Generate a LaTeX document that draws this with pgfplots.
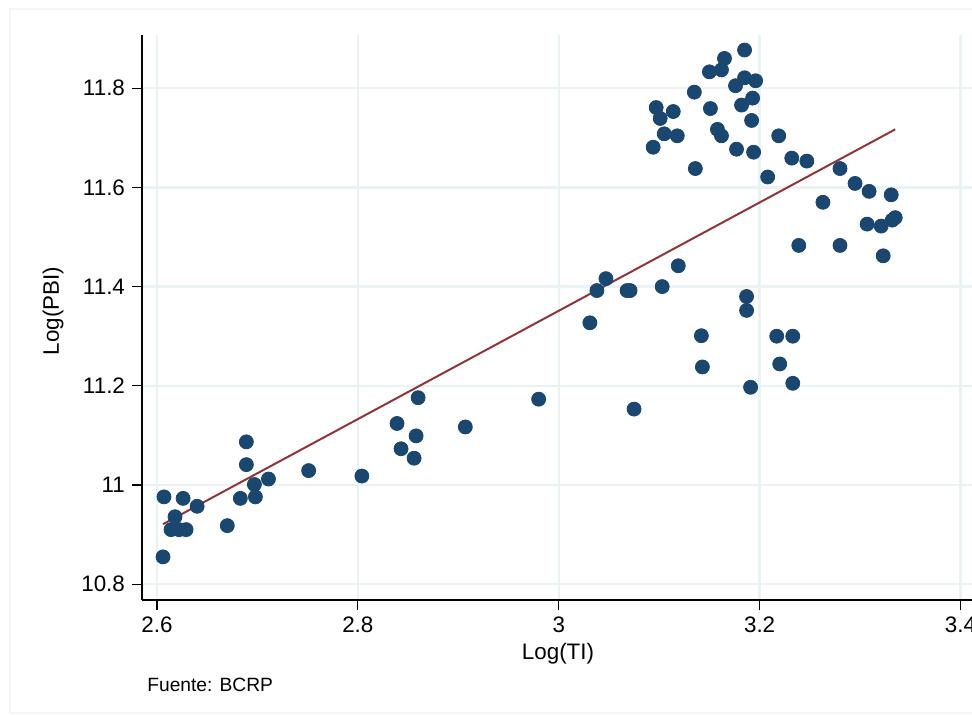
\documentclass[border=0pt]{standalone}
\usepackage{fontspec}
\setmainfont{Liberation Sans}
\usepackage{pgfplots}
\pgfplotsset{compat=1.18}
\definecolor{stnavy}{RGB}{26,71,111}
\definecolor{stmaroon}{RGB}{144,53,59}
\definecolor{stgrid}{RGB}{234,242,243}
\begin{document}
\begin{tikzpicture}
\begin{axis}[
 at={(0,0)}, anchor=south west,
 scale only axis, width=419.3pt, height=282.5pt,
 xmin=2.5851, xmax=3.42, ymin=10.7681, ymax=11.9073,
 axis x line*=bottom, axis y line*=left,
 axis line style={line width=0.9pt, black, -},
 xtick={2.6,2.8,3,3.2,3.4}, ytick={10.8,11,11.2,11.4,11.6,11.8},
 xticklabels={2.6,2.8,3,3.2,3.4}, yticklabels={10.8,11,11.2,11.4,11.6,11.8},
 tick align=outside, major tick length=5pt, tick style={line width=0.6pt, black},
 grid=major, major grid style={stgrid, line width=1.2pt},
 ticklabel style={font=\fontsize{11.2}{13}\selectfont},
 clip=false,
]
\addplot[only marks, mark=*, mark size=3.5pt, stnavy, mark options={fill=stnavy, draw=stnavy}] coordinates {
(2.689,11.087) (2.689,11.041) (2.751,11.029) (2.697,11.001) (2.711,11.012)
(2.607,10.976) (2.626,10.973) (2.640,10.957) (2.683,10.973) (2.698,10.976)
(2.618,10.936) (2.614,10.910) (2.622,10.910) (2.629,10.910) (2.670,10.918)
(2.606,10.855)
(2.860,11.176) (2.980,11.173) (2.839,11.124) (2.907,11.117) (2.858,11.099)
(2.843,11.073) (2.856,11.054) (2.804,11.018)
(3.119,11.442) (3.047,11.416) (3.038,11.392) (3.068,11.392) (3.071,11.392)
(3.103,11.400) (3.031,11.327) (3.142,11.301) (3.143,11.238) (3.075,11.153)
(3.187,11.380) (3.187,11.352) (3.191,11.197) (3.217,11.300) (3.233,11.300)
(3.220,11.244) (3.233,11.205)
(3.185,11.877) (3.165,11.860) (3.150,11.833) (3.162,11.837) (3.185,11.821)
(3.176,11.805) (3.196,11.815) (3.135,11.792) (3.193,11.780) (3.097,11.761)
(3.114,11.753) (3.151,11.759) (3.182,11.766) (3.101,11.739) (3.192,11.735)
(3.158,11.717) (3.162,11.704) (3.105,11.708) (3.118,11.704) (3.219,11.704)
(3.094,11.681) (3.177,11.677) (3.194,11.671) (3.232,11.659) (3.136,11.638)
(3.208,11.621)
(3.247,11.653) (3.280,11.638) (3.295,11.608) (3.309,11.592) (3.331,11.585)
(3.263,11.570) (3.307,11.526) (3.321,11.522) (3.332,11.534) (3.335,11.539)
(3.239,11.483) (3.280,11.483) (3.323,11.462)
};
\addplot[stmaroon, line width=1pt, no marks] coordinates {(2.606,10.921) (3.335,11.717)};
\end{axis}
\draw[gray!8, line width=0.6pt] (-66pt,-56.5pt) rectangle (430pt,295.5pt);
\node[font=\fontsize{11.2}{13}\selectfont, inner sep=0pt] at (208pt,-27pt) {Log(TI)};
\node[rotate=90, font=\fontsize{11.2}{13}\selectfont, inner sep=0pt] at (-44.5pt,144.5pt) {Log(PBI)};
\node[anchor=base west, font=\fontsize{9.6}{11}\selectfont, inner sep=0pt] at (2.5pt,-46pt) {Fuente: BCRP};
\pgfresetboundingbox
\useasboundingbox (-71pt,-57.5pt) rectangle (415pt,300pt);
\end{tikzpicture}
\end{document}
